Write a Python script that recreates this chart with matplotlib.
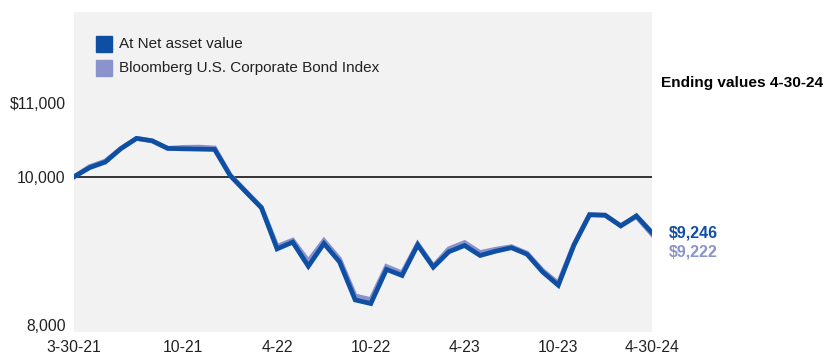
import matplotlib
matplotlib.use("Agg")
import matplotlib.pyplot as plt

plt.rcParams['font.family'] = ['Liberation Sans', 'DejaVu Sans']

# valor de una inversión de $10,000, mensual del 3-30-21 al 4-30-24
fondo = [10000, 10124, 10199, 10381, 10519, 10486, 10384, 10378, 10374, 10370,
         10016, 9797, 9581, 9027, 9118, 8793, 9100, 8851, 8338, 8289,
         8750, 8668, 9081, 8780, 8989, 9073, 8938, 8996, 9043, 8955,
         8716, 8536, 9077, 9486, 9482, 9338, 9473, 9246]
indice = [10000, 10138, 10213, 10381, 10519, 10486, 10384, 10398, 10401, 10390,
          10023, 9804, 9588, 9061, 9145, 8861, 9140, 8891, 8392, 8343,
          8790, 8702, 9095, 8794, 9029, 9113, 8978, 9023, 9057, 8969,
          8736, 8563, 9084, 9493, 9482, 9338, 9463, 9222]
meses = list(range(len(fondo)))

etiquetas_x = ['3-30-21', '10-21', '4-22', '10-22', '4-23', '10-23', '4-30-24']
pos_x = [0, 7, 13, 19, 25, 31, 37]
valores_y = [8000, 10000, 11000]
etiquetas_y = ['8,000', '10,000', '$11,000']

azul = '#0f4fa3'
lila = '#8a93cb'

fig = plt.figure(figsize=(8.25, 3.57), dpi=100)
ax = fig.add_axes([74/825, 1-332/357, 578/825, 320/357])
ax.set_facecolor('#f2f2f2')

ax.axhline(10000, color='black', lw=1.1, zorder=1)
ax.plot(meses, indice, color=lila, lw=3.4, solid_joinstyle='miter', zorder=2)
ax.plot(meses, fondo, color=azul, lw=3.4, solid_joinstyle='miter', zorder=3)

ax.set_xlim(0, 37)
ax.set_ylim(7905, 12225)
for s in ax.spines.values():
    s.set_visible(False)
ax.set_xticks(pos_x)
ax.set_xticklabels(etiquetas_x)
ax.set_yticks(valores_y)
ax.set_yticklabels(etiquetas_y)
ax.tick_params(length=0, labelsize=11.3, colors='#222222')
ax.tick_params(axis='y', pad=6)
ax.tick_params(axis='x', pad=6)

# leyenda hecha a mano
for k, (txt, col) in enumerate([('At Net asset value', azul),
                                ('Bloomberg U.S. Corporate Bond Index', lila)]):
    yc = 44 + 24*k
    fig.patches.append(plt.Rectangle((96/825, 1-(yc+8)/357), 16/825, 16/357,
                                     transform=fig.transFigure, color=col))
    fig.text(119/825, 1-yc/357, txt, fontsize=11, va='center', ha='left', color='#222222')

fig.text(661/825, 1-83/357, 'Ending values 4-30-24', fontsize=11.1,
         fontweight='bold', va='center', ha='left', color='black')

tr = ax.get_yaxis_transform()
ax.annotate(f'${fondo[-1]:,}', xy=(1, fondo[-1]), xycoords=tr,
            xytext=(17, 0), textcoords='offset pixels', fontsize=11.5,
            fontweight='bold', color=azul, va='center', ha='left')
ax.annotate(f'${indice[-1]:,}', xy=(1, fondo[-1]), xycoords=tr,
            xytext=(17, -19), textcoords='offset pixels', fontsize=11.5,
            fontweight='bold', color=lila, va='center', ha='left')

fig.savefig('out.png', dpi=100)
